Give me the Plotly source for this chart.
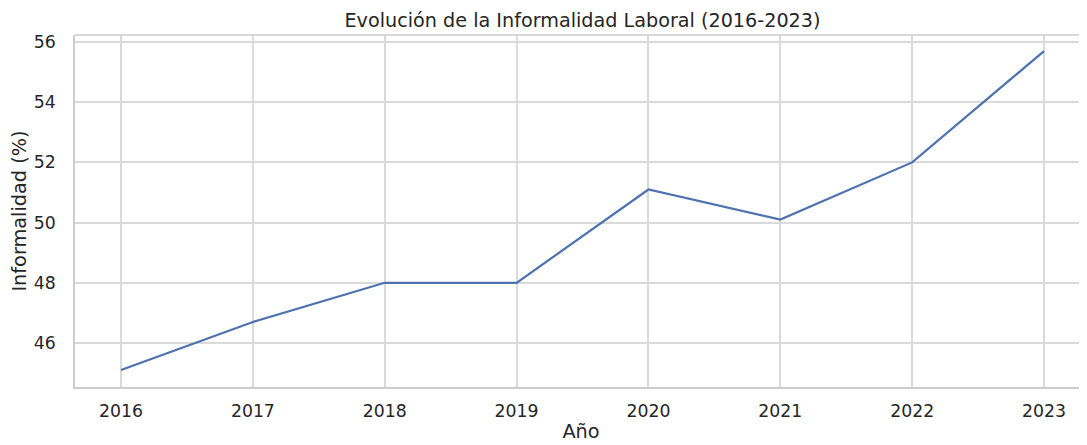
import plotly.graph_objects as go

years = [2016, 2017, 2018, 2019, 2020, 2021, 2022, 2023]
informalidad = [45.1, 46.7, 48.0, 48.0, 51.1, 50.1, 52.0, 55.7]
x_ticks = years
y_ticks = [46, 48, 50, 52, 54, 56]

title = "Evolución de la Informalidad Laboral (2016-2023)"
x_title = "Año"
y_title = "Informalidad (%)"

TEXT = "#262626"
GRID = "#dadada"
SPINE = "#cccccc"
FONT = "DejaVu Sans"

# page has an 8px body margin: figure drawn from (8, 8)
W, H = 1079, 437

fig = go.Figure()
fig.add_trace(go.Scatter(
    x=years, y=informalidad, mode="lines",
    line=dict(color="#4c72b0", width=2.2),
    hoverinfo="skip", showlegend=False,
))

fig.update_layout(
    width=W, height=H,
    paper_bgcolor="white", plot_bgcolor="white",
    margin=dict(l=67, r=0, t=27, b=58, autoexpand=False),
    font=dict(family=FONT, color=TEXT, size=17.3),
    title=dict(text=title, x=(67 + 1082) / 2 / W, xanchor="center",
               y=1 - 12 / H, yanchor="middle", automargin=False,
               font=dict(family=FONT, size=19.2, color=TEXT)),
)

fig.update_xaxes(
    range=[2015.651, 2023.326],
    tickvals=x_ticks, ticktext=[str(t) for t in x_ticks],
    showgrid=True, gridcolor=GRID, gridwidth=1.5,
    showline=True, linecolor=SPINE, linewidth=1.6, mirror=False,
    ticks="", ticklabelstandoff=7, automargin=False,
    zeroline=False,
    title=dict(text=x_title, font=dict(size=19.3, color=TEXT), standoff=5),
    tickfont=dict(size=17.3, color=TEXT),
)
fig.update_yaxes(
    range=[44.538, 56.233],
    tickvals=y_ticks,
    showgrid=True, gridcolor=GRID, gridwidth=1.5,
    showline=True, linecolor=SPINE, linewidth=1.6, mirror=False,
    ticks="", ticklabelstandoff=14, automargin=False,
    zeroline=False,
    title=dict(text=y_title, font=dict(size=19.3, color=TEXT), standoff=8),
    tickfont=dict(size=17.3, color=TEXT),
)
# top spine
fig.add_shape(type="line", xref="paper", yref="paper", x0=0, x1=1, y0=1, y1=1,
              line=dict(color=SPINE, width=1.6))

fig.write_html("out.html", post_script="document.body.style.overflow='hidden';")
